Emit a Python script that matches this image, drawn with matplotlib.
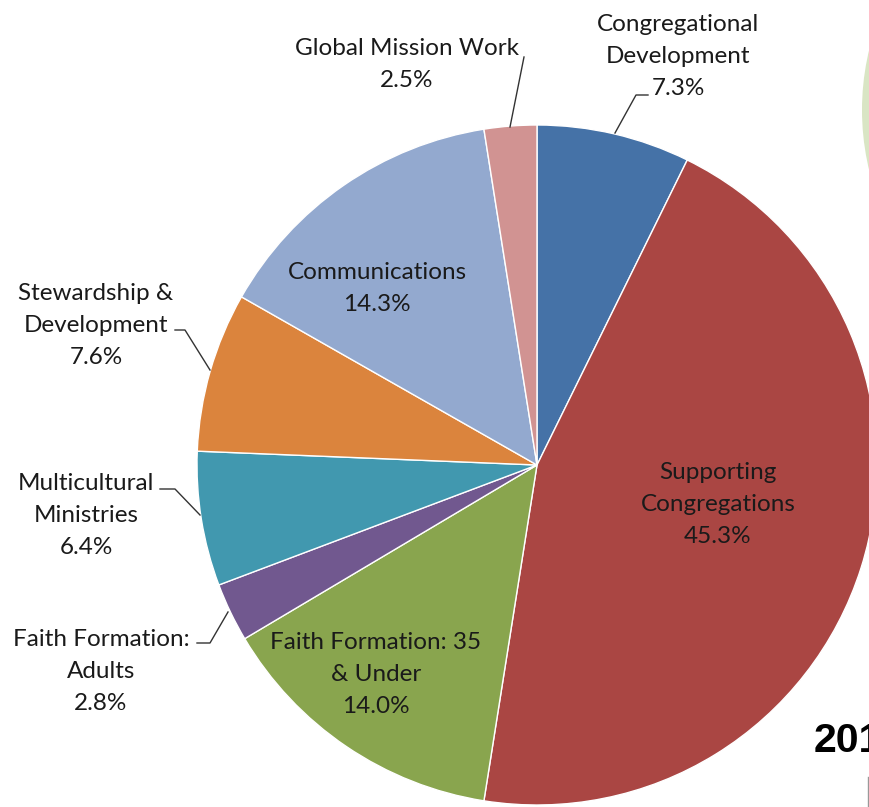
import matplotlib
matplotlib.use("Agg")
import matplotlib.pyplot as plt
from matplotlib.patches import Circle

categories = ["Congregational\nDevelopment", "Supporting\nCongregations", "Faith Formation: 35\n& Under",
              "Faith Formation:\nAdults", "Multicultural\nMinistries", "Stewardship &\nDevelopment",
              "Communications", "Global Mission Work"]
values = [7.3, 45.3, 14.0, 2.8, 6.4, 7.6, 14.3, 2.5]
colors = ["#4572A7", "#AA4643", "#89A54E", "#71588F", "#4198AF", "#DB843D", "#93A9CF", "#D19392"]

W, H = 869, 807
fig = plt.figure(figsize=(W / 100, H / 100), dpi=100)
ax = fig.add_axes([0, 0, 1, 1])

# decorative shape at top right
ax.add_patch(Circle((1119, 110), 257, facecolor="#d9e5c4", edgecolor="none", zorder=0))

ax.pie(values, colors=colors, startangle=-90, counterclock=True, center=(537, 465), radius=340,
       wedgeprops=dict(edgecolor="white", linewidth=1), frame=True)
ax.set_xlim(0, W)
ax.set_ylim(H, 0)
ax.set_aspect("equal")
ax.axis("off")

fam = ["Lato", "DejaVu Sans"]
fs = 17.5
tc = "#1a1a1a"
ls = 1.66
dy = 2.5

def lbl(x, y, cat_idx):
    txt = f"{categories[cat_idx]}\n{values[cat_idx]:.1f}%"
    ax.text(x, y + dy, txt, ha="center", va="center", fontsize=fs, family=fam, color=tc,
            linespacing=ls, zorder=5)

lbl(678, 54, 0)
lbl(718, 502, 1)
lbl(376, 672, 2)
lbl(101, 669, 3)
lbl(86, 513, 4)
lbl(96, 323, 5)
lbl(377, 286, 6)
lbl(407, 62, 7)

lc = "#333333"
lw = 1.0
leaders = [
    ([615, 636, 648], [133, 95, 95]),
    ([510, 524], [127, 57]),
    ([175, 185, 210], [330, 330, 370]),
    ([160, 175, 200], [489, 489, 515]),
    ([197, 210, 228], [643, 643, 612]),
]
for xs, ys in leaders:
    ax.plot(xs, ys, color=lc, linewidth=lw, zorder=4)

ax.text(814, 752, "2014", ha="left", va="baseline", fontsize=29.5, family=["Liberation Sans"],
        fontweight="bold", color="black", zorder=6)
ax.plot([868, 868], [777, 807], color="#999999", linewidth=1, zorder=6)

fig.savefig("out.png", dpi=100)
